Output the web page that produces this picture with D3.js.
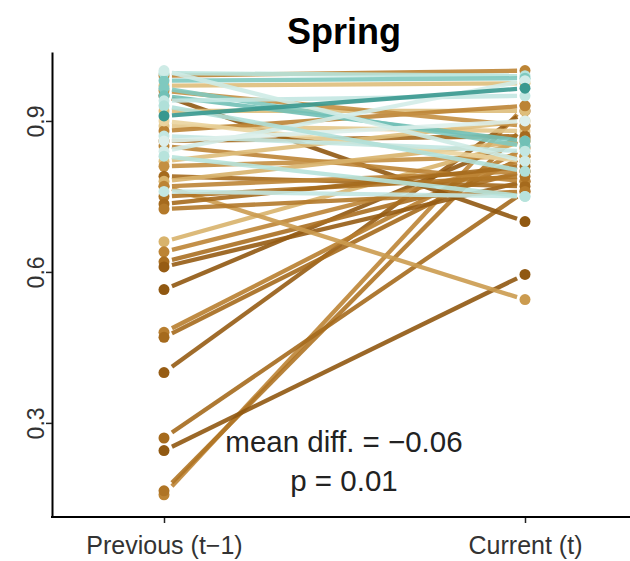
<!DOCTYPE html>
<html><head><meta charset="utf-8">
<script src="https://cdn.jsdelivr.net/npm/d3@7"></script>
<style>body{margin:0;background:#fff}</style>
</head><body>
<svg id="chart" width="630" height="561"></svg>
<script>
// ---- data ----
const categories = ["Previous (t\u22121)", "Current (t)"];
const previous = [0.157,0.165,0.27,0.245,0.40,0.48,0.47,0.565,0.66,0.64,0.62,0.61,0.77,0.95,
  0.99,0.97,0.92,0.89,0.88,0.86,0.85,0.82,0.81,0.79,0.78,0.77,0.75,0.735,0.725,0.90,0.96,
  0.995,0.98,0.965,0.95,0.94,0.87,0.84,0.76,0.86,1.0,0.83,0.93,0.91];
const current = [0.93,0.89,0.76,0.595,0.92,0.846,0.83,0.866,0.86,0.82,0.80,0.78,0.545,0.70,
  1.0,0.975,0.92,0.88,0.93,0.87,0.78,0.90,0.83,0.77,0.86,0.80,0.79,0.81,0.76,0.82,0.89,
  0.99,0.985,0.85,0.86,0.95,0.84,0.98,0.75,0.90,0.82,0.75,0.80,0.965];
const tone = [0.2,0.17,0.15,0.11,0.12,0.19,0.15,0.11,0.28,0.2,0.16,0.12,0.24,0.11,
  0.2,0.3,0.3,0.32,0.2,0.15,0.2,0.3,0.22,0.15,0.28,0.2,0.17,0.15,0.18,0.35,0.22,
  0.62,0.7,0.7,0.72,0.6,0.6,0.57,0.6,0.55,0.58,0.62,0.63,0.8];
const yTicks = [0.3, 0.6, 0.9];
const title = "Spring";
const statLines = ["mean diff. = \u22120.06", "p = 0.01"];

// ---- layout ----
const svg = d3.select("#chart");
const mLeft = 52, mRight = 630, mTop = 52, mBottom = 517;
const font = "'Liberation Sans', Arial, Helvetica, sans-serif";

const x = d3.scalePoint().domain(categories).range([164, 525]);
const y = d3.scaleLinear().domain([0.113, 1.037]).range([mBottom, mTop]);
const color = t => d3.interpolateBrBG(t);

const pairs = previous.map((p, i) => ({p, c: current[i], t: tone[i]}));

// lines (drawn with a small gap at each end)
const gap = 0.022;
const x0 = x(categories[0]), x1 = x(categories[1]);
svg.append("g").selectAll("line").data(pairs).join("line")
  .attr("x1", x0 + (x1 - x0) * gap)
  .attr("x2", x0 + (x1 - x0) * (1 - gap))
  .attr("y1", d => y(d.p) + (y(d.c) - y(d.p)) * gap)
  .attr("y2", d => y(d.p) + (y(d.c) - y(d.p)) * (1 - gap))
  .attr("stroke", d => color(d.t))
  .attr("stroke-width", 4.3)
  .attr("stroke-opacity", 0.9)
  .attr("stroke-linecap", "butt");

// points
const pts = svg.append("g");
pts.selectAll("circle.prev").data(pairs).join("circle").attr("class","prev")
  .attr("cx", x0).attr("cy", d => y(d.p)).attr("r", 5.5)
  .attr("fill", d => color(d.t));
pts.selectAll("circle.cur").data(pairs).join("circle").attr("class","cur")
  .attr("cx", x1).attr("cy", d => y(d.c)).attr("r", 5.5)
  .attr("fill", d => color(d.t));

// y axis
const yAxis = svg.append("g").attr("transform", `translate(${mLeft},0)`)
  .call(d3.axisLeft(y).tickValues(yTicks).tickSize(6).tickSizeOuter(0).tickFormat(d3.format(".1f")));
yAxis.select(".domain").attr("stroke", "#000").attr("stroke-width", 2);
yAxis.selectAll(".tick line").attr("stroke", "#222").attr("stroke-width", 1.5);
yAxis.selectAll(".tick text")
  .attr("transform", "rotate(-90)")
  .attr("x", 0).attr("y", -8).attr("dy", 0)
  .attr("text-anchor", "middle")
  .attr("fill", "#333")
  .style("font-family", font).style("font-size", "23px");

// x axis
const xAxis = svg.append("g").attr("transform", `translate(0,${mBottom})`)
  .call(d3.axisBottom(x).tickSize(6).tickSizeOuter(0));
xAxis.select(".domain").remove();
xAxis.append("line").attr("x1", mLeft - 1).attr("x2", mRight).attr("y1", 0).attr("y2", 0)
  .attr("stroke", "#000").attr("stroke-width", 2);
xAxis.selectAll(".tick line").attr("stroke", "#222").attr("stroke-width", 1.5);
xAxis.selectAll(".tick text").attr("y", 37).attr("dy", 0)
  .attr("fill", "#333")
  .style("font-family", font).style("font-size", "25px");

// title
svg.append("text").attr("x", 344).attr("y", 44).attr("text-anchor", "middle")
  .style("font-family", font).style("font-size", "36px").style("font-weight", "bold")
  .attr("fill", "#000").text(title);

// stats text
svg.append("g").selectAll("text").data(statLines).join("text")
  .attr("x", 344).attr("y", (d, i) => 452 + i * 39).attr("text-anchor", "middle")
  .style("font-family", font).style("font-size", "29.5px")
  .attr("fill", "#222").text(d => d);
</script>
</body></html>
